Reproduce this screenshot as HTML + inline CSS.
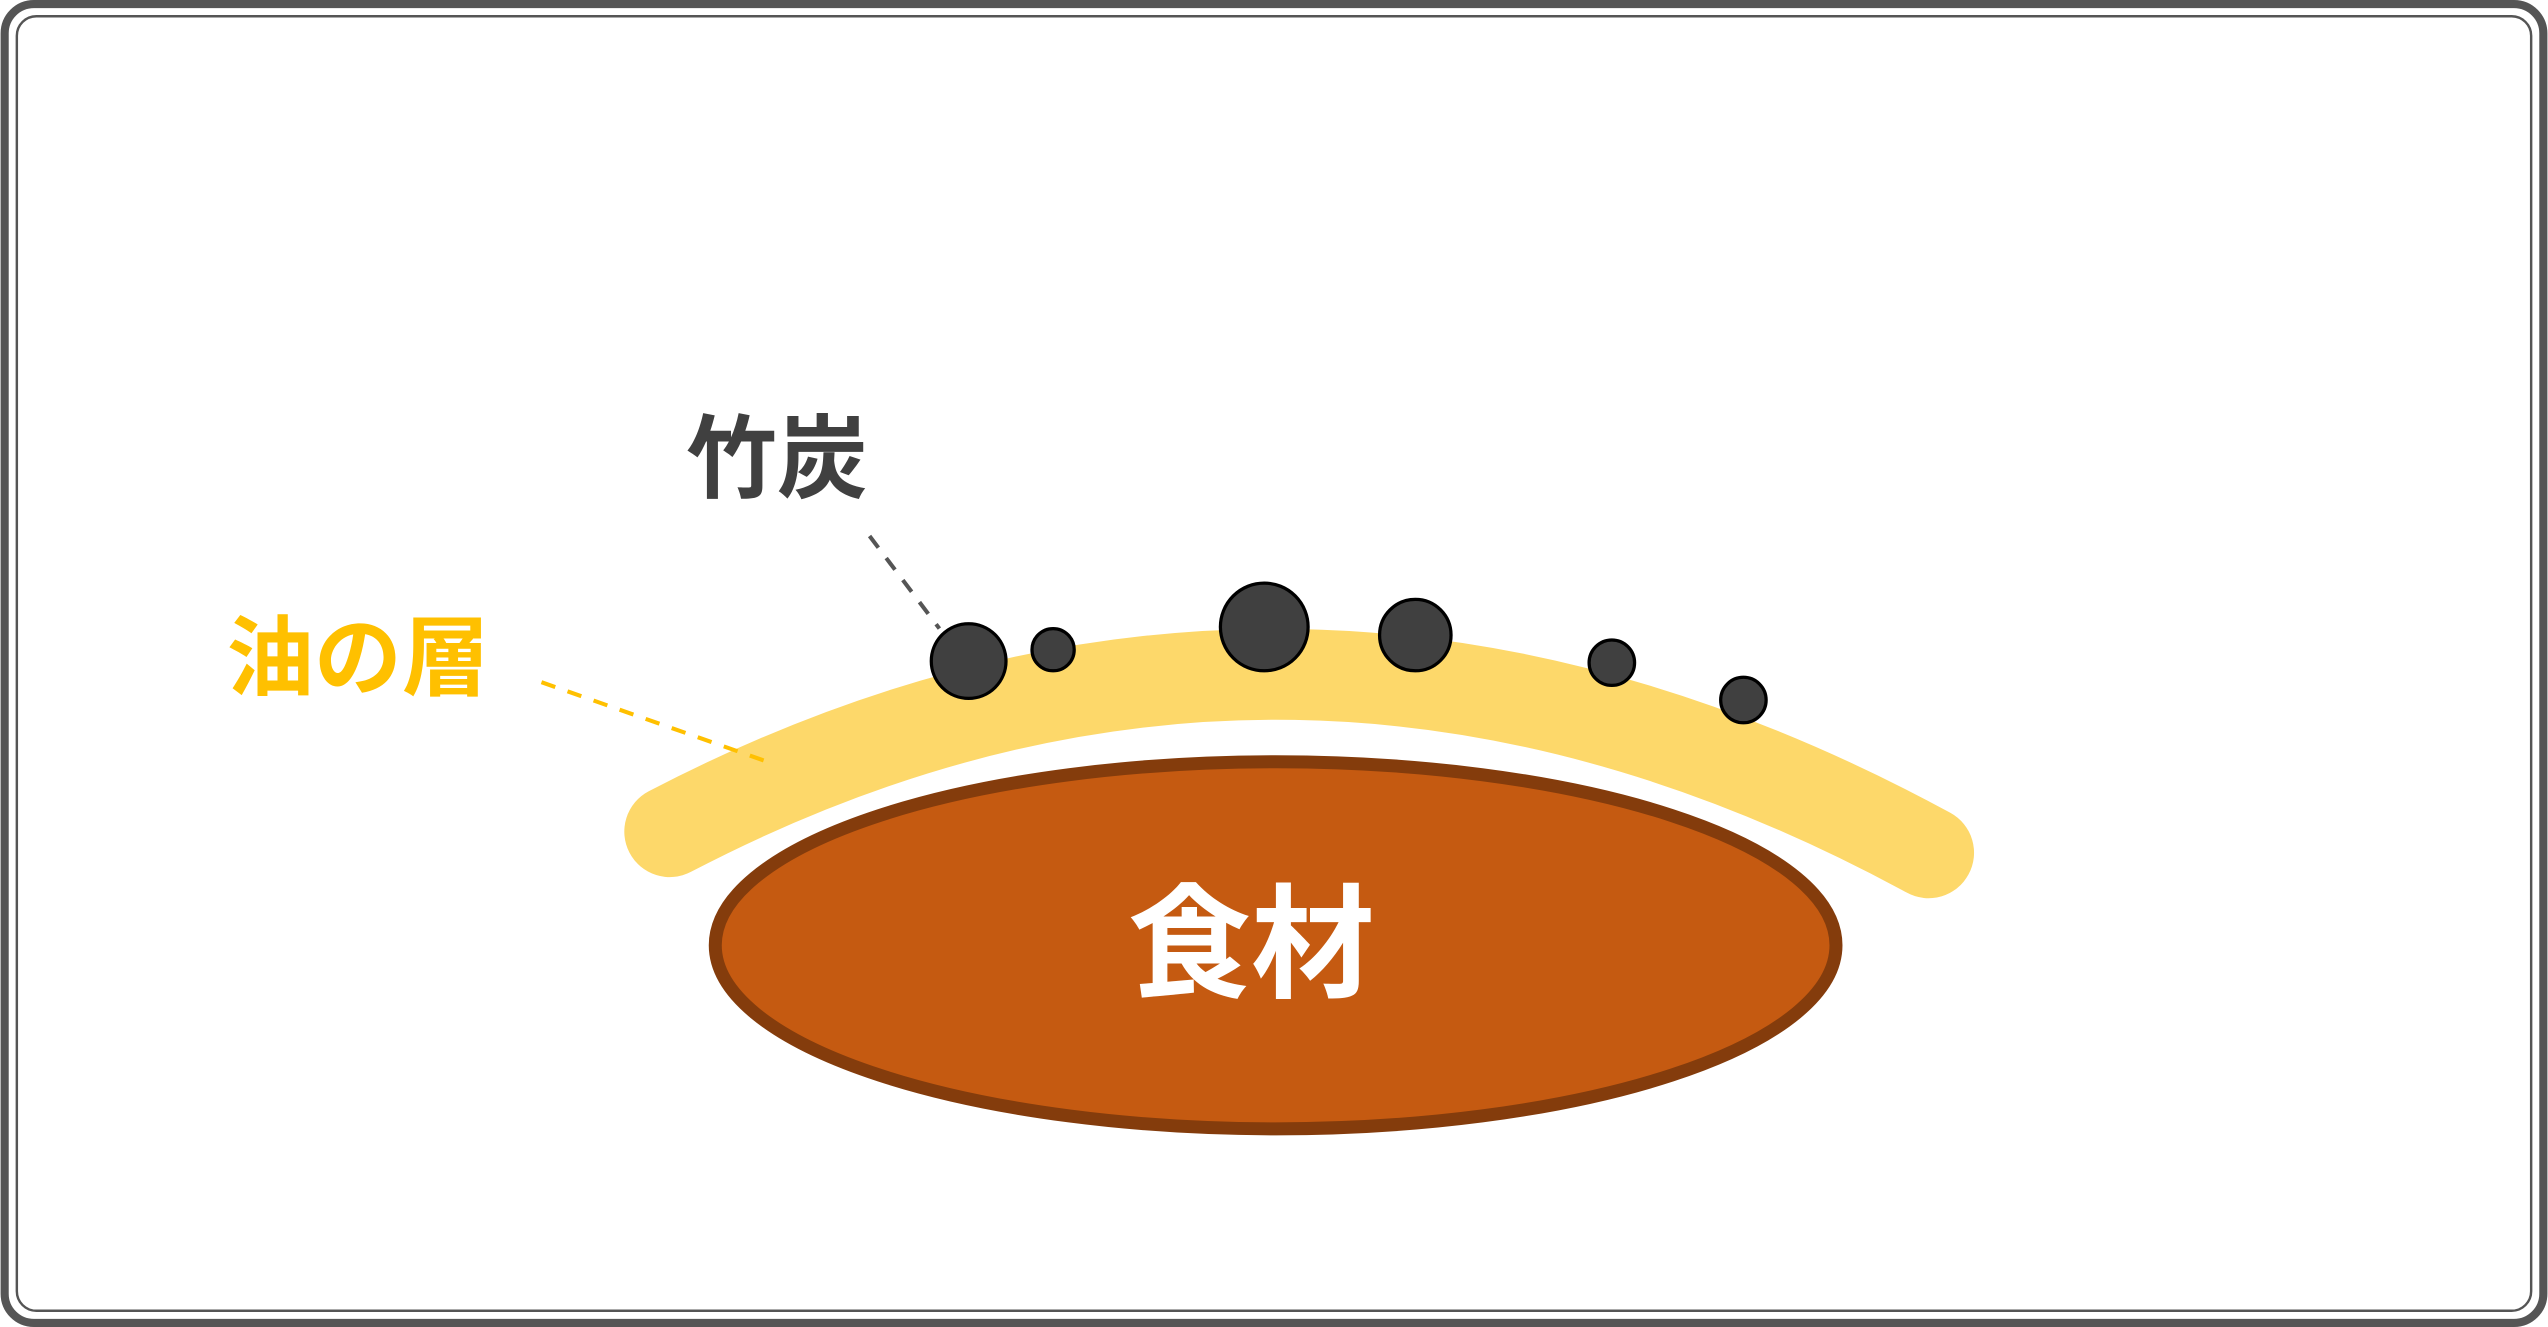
<!DOCTYPE html>
<html><head><meta charset="utf-8"><style>
html,body{margin:0;padding:0;background:#fff}
svg{display:block}
text{font-family:"Liberation Sans","Noto Sans CJK JP",sans-serif;font-weight:bold}
</style></head><body>
<svg width="2548" height="1327" viewBox="0 0 1568 817" xmlns="http://www.w3.org/2000/svg">
<rect x="2.5" y="2.5" width="1563" height="812" rx="18" fill="#fff" stroke="#555" stroke-width="5"/>
<rect x="10" y="10" width="1548" height="797" rx="12" fill="none" stroke="#555" stroke-width="1.5"/>
<path d="M412,512 Q795,312 1187,525" fill="none" stroke="#FDD86A" stroke-width="56" stroke-linecap="round"/>
<ellipse cx="785" cy="582" rx="345" ry="113" fill="#C55A11" stroke="#843C0C" stroke-width="8"/>
<text x="770" y="608" font-size="76" fill="#fff" text-anchor="middle">食材</text>
<g fill="#404040" stroke="#000" stroke-width="2">
<circle cx="596" cy="407" r="23"/>
<circle cx="648" cy="400" r="13"/>
<circle cx="778" cy="386" r="27"/>
<circle cx="871" cy="391" r="22"/>
<circle cx="992" cy="408" r="14"/>
<circle cx="1073" cy="431" r="14"/>
</g>
<text x="478" y="302" font-size="56" fill="#404040" text-anchor="middle">竹炭</text>
<line x1="535" y1="330" x2="578" y2="387" stroke="#555" stroke-width="2.5" stroke-dasharray="9,8"/>
<text x="220" y="424" font-size="54" fill="#FFC000" text-anchor="middle">油の層</text>
<line x1="333" y1="420" x2="475" y2="470" stroke="#FFC000" stroke-width="2.5" stroke-dasharray="9,8"/>
</svg>
</body></html>
